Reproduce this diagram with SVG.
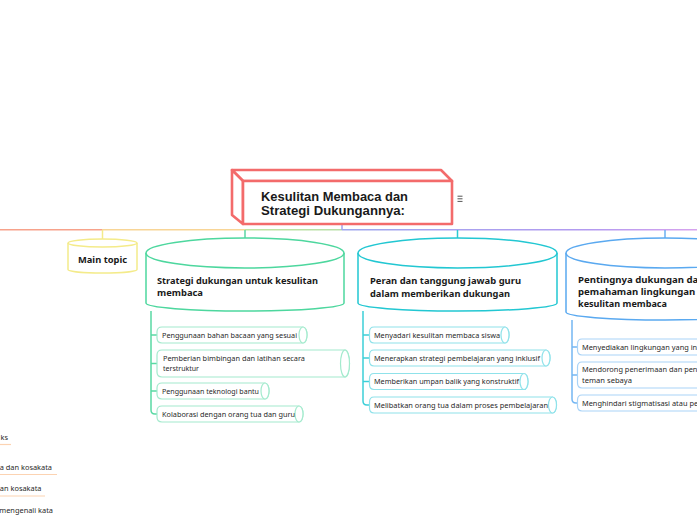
<svg xmlns="http://www.w3.org/2000/svg" width="697" height="520" viewBox="0 0 697 520">
<defs>
<linearGradient id="gR" x1="342" y1="0" x2="697" y2="0" gradientUnits="userSpaceOnUse">
<stop offset="0" stop-color="#9fa8ee"/><stop offset="0.7" stop-color="#b39af0"/><stop offset="1" stop-color="#d7a3ee"/>
</linearGradient>
<linearGradient id="gM" x1="245" y1="0" x2="342" y2="0" gradientUnits="userSpaceOnUse">
<stop offset="0" stop-color="#bfe3a0"/><stop offset="1" stop-color="#b8dfa8"/>
</linearGradient>
<style>
.hd{font-family:"Noto Sans","Open Sans",sans-serif;font-weight:bold;fill:#1a1a1a}
.ct{font-family:"Liberation Sans",Arial,sans-serif;font-weight:bold;fill:#1a1a1a;font-size:12.5px}
.sm{font-family:"Noto Sans","Open Sans",sans-serif;font-size:7.4px;fill:#2a2a2a}
.pg{fill:#fff;stroke:#a3eacd;stroke-width:1.2}
.pt{fill:#fff;stroke:#8fe2ea;stroke-width:1.2}
.pb{fill:#fff;stroke:#a9d3f7;stroke-width:1.2}
.cn{fill:none;stroke-width:1.5}
</style>
</defs>
<rect width="697" height="520" fill="#fff"/>

<g id="connectors">
<line x1="0" y1="229.7" x2="102" y2="229.7" stroke="#f7a28b" class="cn"/>
<line x1="102" y1="229.7" x2="245" y2="229.7" stroke="#f8d596" class="cn"/>
<line x1="245" y1="229.7" x2="342" y2="229.7" stroke="url(#gM)" class="cn"/>
<line x1="342" y1="229.7" x2="697" y2="229.7" stroke="url(#gR)" class="cn"/>
<line x1="342" y1="224" x2="342" y2="230" stroke="#a3a4ee" class="cn"/>
<line x1="102.5" y1="230" x2="102.5" y2="239.5" stroke="#f4eb8a" class="cn"/>
<line x1="245" y1="230" x2="245" y2="238.5" stroke="#5ad6a2" class="cn"/>
<line x1="457.5" y1="230" x2="457.5" y2="238.5" stroke="#2ccad2" class="cn"/>
<line x1="665" y1="230" x2="665" y2="238.5" stroke="#6aaff0" class="cn"/>
<path d="M151,311 V410 Q151,414 155,414 H157.5" stroke="#5ad9a4" class="cn"/>
<path d="M151,335 H157.5 M151,363.5 H157.5 M151,391 H157.5" stroke="#5ad9a4" class="cn"/>
<path d="M363,311 V401 Q363,405 367,405 H369.5" stroke="#3ccfd8" class="cn"/>
<path d="M363,335 H369.5 M363,358 H369.5 M363,381.5 H369.5" stroke="#3ccfd8" class="cn"/>
<path d="M572,320 V399 Q572,403 576,403 H577.5" stroke="#74b6f2" class="cn"/>
<path d="M572,347 H577.5 M572,375 H577.5" stroke="#74b6f2" class="cn"/>
<g stroke="#fcd3b2" stroke-width="1.2">
<line x1="0" y1="444.5" x2="11" y2="444.5"/>
<line x1="0" y1="474.5" x2="57" y2="474.5"/>
<line x1="0" y1="496" x2="45" y2="496"/>
</g>
</g>

<g id="central">
<g fill="#fff" stroke="#f36b6b" stroke-width="2.6" stroke-linejoin="round">
<path d="M232,170 H441 L452,181 H243 Z"/>
<path d="M232,170 L243,181 V224 L232,215 Z"/>
<rect x="243" y="181" width="209" height="43"/>
</g>
<text class="ct" x="261" y="200.7" textLength="147" lengthAdjust="spacingAndGlyphs">Kesulitan Membaca dan</text>
<text class="ct" x="261" y="215" textLength="144" lengthAdjust="spacingAndGlyphs">Strategi Dukungannya:</text>
<g stroke="#555" stroke-width="1"><line x1="457.5" y1="196.2" x2="462.5" y2="196.2"/><line x1="457.5" y1="198.8" x2="462.5" y2="198.8"/><line x1="457.5" y1="201.4" x2="462.5" y2="201.4"/></g>
</g>

<g id="main-topic">
<path d="M68,243 V269.5 A34.5,3.5 0 0 0 137,269.5 V243" fill="#fff" stroke="#f4eb8a" stroke-width="1.5"/>
<ellipse cx="102.5" cy="243" rx="34.5" ry="4" fill="#fff" stroke="#f4eb8a" stroke-width="1.5"/>
<text class="hd" font-size="9.5" x="78" y="263.3" textLength="49" lengthAdjust="spacingAndGlyphs">Main topic</text>
</g>

<g id="strategi">
<path d="M146,253 V303 A99,8 0 0 0 344,303 V253" fill="#fff" stroke="#4dd79e" stroke-width="1.5"/>
<ellipse cx="245" cy="253" rx="99" ry="15" fill="#fff" stroke="#4dd79e" stroke-width="1.5"/>
<text class="hd" font-size="9.6" x="157" y="283.5" textLength="161" lengthAdjust="spacingAndGlyphs">Strategi dukungan untuk kesulitan</text>
<text class="hd" font-size="9.6" x="157" y="296" textLength="46" lengthAdjust="spacingAndGlyphs">membaca</text>
</g>

<g id="peran">
<path d="M358,253 V303 A99.5,8 0 0 0 557,303 V253" fill="#fff" stroke="#22c7d2" stroke-width="1.5"/>
<ellipse cx="457.5" cy="253" rx="99.5" ry="15" fill="#fff" stroke="#22c7d2" stroke-width="1.5"/>
<text class="hd" font-size="9.6" x="370" y="283.5" textLength="151" lengthAdjust="spacingAndGlyphs">Peran dan tanggung jawab guru</text>
<text class="hd" font-size="9.6" x="370" y="296.5" textLength="140" lengthAdjust="spacingAndGlyphs">dalam memberikan dukungan</text>
</g>

<g id="pentingnya">
<path d="M566,253 V312 A99,8 0 0 0 764,312 V253" fill="#fff" stroke="#5aa9f0" stroke-width="1.5"/>
<ellipse cx="665" cy="253" rx="99" ry="15" fill="#fff" stroke="#5aa9f0" stroke-width="1.5"/>
<text class="hd" font-size="9.6" x="578" y="283">Pentingnya dukungan dan</text>
<text class="hd" font-size="9.6" x="578" y="295">pemahaman lingkungan terhadap</text>
<text class="hd" font-size="9.6" x="578" y="307" textLength="89" lengthAdjust="spacingAndGlyphs">kesulitan membaca</text>
</g>

<g id="s1">
<path class="pg" d="M162,327 H303 A4,8 0 0 1 303,343 H162 Q157,343 157,338 V332 Q157,327 162,327 Z"/>
<ellipse class="pg" cx="303" cy="335" rx="4" ry="8"/>
<text class="sm" x="162" y="337.6" textLength="135" lengthAdjust="spacingAndGlyphs">Penggunaan bahan bacaan yang sesuai</text>
</g>
<g id="s2">
<path class="pg" d="M162,350 H345 A4.5,13.5 0 0 1 345,377 H162 Q157,377 157,372 V355 Q157,350 162,350 Z"/>
<ellipse class="pg" cx="345" cy="363.5" rx="4.5" ry="13.5"/>
<text class="sm" x="163" y="360.5" textLength="142" lengthAdjust="spacingAndGlyphs">Pemberian bimbingan dan latihan secara</text>
<text class="sm" x="163" y="370.5" textLength="36" lengthAdjust="spacingAndGlyphs">terstruktur</text>
</g>
<g id="s3">
<path class="pg" d="M162,383 H265 A4,8 0 0 1 265,399 H162 Q157,399 157,394 V388 Q157,383 162,383 Z"/>
<ellipse class="pg" cx="265" cy="391" rx="4" ry="8"/>
<text class="sm" x="162" y="393.6" textLength="97" lengthAdjust="spacingAndGlyphs">Penggunaan teknologi bantu</text>
</g>
<g id="s4">
<path class="pg" d="M162,406 H299 A4,8 0 0 1 299,422 H162 Q157,422 157,417 V411 Q157,406 162,406 Z"/>
<ellipse class="pg" cx="299" cy="414" rx="4" ry="8"/>
<text class="sm" x="162" y="416.6" textLength="133" lengthAdjust="spacingAndGlyphs">Kolaborasi dengan orang tua dan guru</text>
</g>

<g id="p1">
<path class="pt" d="M374,327 H505 A4,8 0 0 1 505,343 H374 Q369.5,343 369.5,338 V332 Q369.5,327 374,327 Z"/>
<ellipse class="pt" cx="505" cy="335" rx="4" ry="8"/>
<text class="sm" x="374" y="337.6" textLength="126" lengthAdjust="spacingAndGlyphs">Menyadari kesulitan membaca siswa</text>
</g>
<g id="p2">
<path class="pt" d="M374,350 H546 A4,8 0 0 1 546,366 H374 Q369.5,366 369.5,361 V355 Q369.5,350 374,350 Z"/>
<ellipse class="pt" cx="546" cy="358" rx="4" ry="8"/>
<text class="sm" x="374" y="360.6" textLength="166" lengthAdjust="spacingAndGlyphs">Menerapkan strategi pembelajaran yang inklusif</text>
</g>
<g id="p3">
<path class="pt" d="M374,373.5 H524 A4,8 0 0 1 524,389.5 H374 Q369.5,389.5 369.5,384.5 V378.5 Q369.5,373.5 374,373.5 Z"/>
<ellipse class="pt" cx="524" cy="381.5" rx="4" ry="8"/>
<text class="sm" x="374" y="384.1" textLength="145" lengthAdjust="spacingAndGlyphs">Memberikan umpan balik yang konstruktif</text>
</g>
<g id="p4">
<path class="pt" d="M374,397 H552.5 A4,8 0 0 1 552.5,413 H374 Q369.5,413 369.5,408 V402 Q369.5,397 374,397 Z"/>
<ellipse class="pt" cx="552.5" cy="405" rx="4" ry="8"/>
<text class="sm" x="374" y="407.6" textLength="174" lengthAdjust="spacingAndGlyphs">Melibatkan orang tua dalam proses pembelajaran</text>
</g>

<g id="t1">
<path class="pb" d="M582,339 H760 V355 H582 Q577.5,355 577.5,350 V344 Q577.5,339 582,339 Z"/>
<text class="sm" x="582" y="349.6">Menyediakan lingkungan yang inklusif</text>
</g>
<g id="t2">
<path class="pb" d="M582,362 H760 V388 H582 Q577.5,388 577.5,383 V367 Q577.5,362 582,362 Z"/>
<text class="sm" x="582" y="372">Mendorong penerimaan dan pengertian dari</text>
<text class="sm" x="582" y="382.5" textLength="50" lengthAdjust="spacingAndGlyphs">teman sebaya</text>
</g>
<g id="t3">
<path class="pb" d="M582,395 H760 V411 H582 Q577.5,411 577.5,406 V400 Q577.5,395 582,395 Z"/>
<text class="sm" x="582" y="405.6">Menghindari stigmatisasi atau pelabelan</text>
</g>

<g id="left-partial">
<text class="sm" x="8" y="440" text-anchor="end">ks</text>
<text class="sm" x="52" y="469.5" text-anchor="end">a dan kosakata</text>
<text class="sm" x="41.5" y="491" text-anchor="end">an kosakata</text>
<text class="sm" x="53" y="513" text-anchor="end">mengenali kata</text>
</g>
</svg>
